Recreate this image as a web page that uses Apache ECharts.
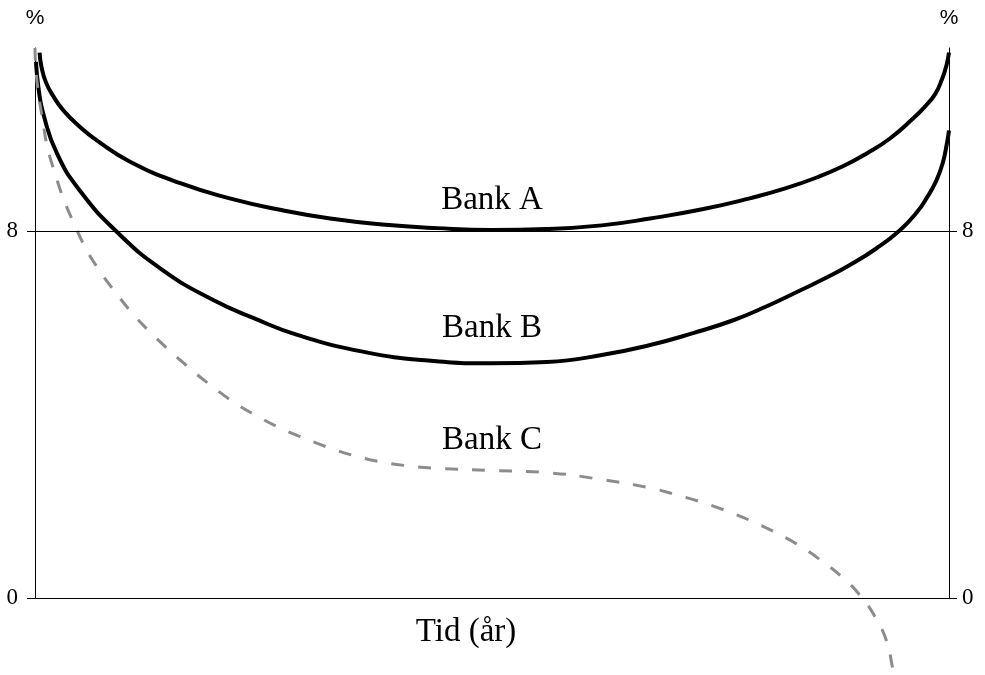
<!DOCTYPE html>
<html>
<head>
<meta charset="utf-8">
<script src="https://cdn.jsdelivr.net/npm/echarts@6/dist/echarts.min.js"></script>
<style>
  html, body { margin: 0; padding: 0; background: #fff; }
  #chart { width: 985px; height: 675px; }
</style>
</head>
<body>
<div id="chart"></div>
<script>
// Tid (x, 0-100) og rente (%)
const bankA_t = [0.5, 0.7, 1.2, 2.0, 3.1, 4.8, 6.8, 10.4, 15.9, 21.3, 26.8, 32.3, 38, 44, 50, 56, 62, 67.3, 73, 78.2, 82, 85.6, 88.5, 91, 93.5, 96, 97.5, 98.5, 99.2, 99.7, 100];
const bankA_r = [11.9, 11.6, 11.25, 10.95, 10.64, 10.3, 9.98, 9.52, 9.05, 8.72, 8.47, 8.28, 8.15, 8.07, 8.03, 8.05, 8.13, 8.28, 8.48, 8.72, 8.93, 9.18, 9.43, 9.7, 10.02, 10.45, 10.75, 11.0, 11.3, 11.6, 11.9];

const bankB_t = [0.1, 0.4, 0.9, 2.4, 4.9, 9, 14, 19.5, 24, 28.7, 36, 43, 50, 56, 62, 67.3, 72, 76.4, 80, 83.7, 86.5, 89.2, 92, 94.6, 96.5, 97.6, 98.6, 99.3, 99.8, 100];
const bankB_r = [11.7, 11.1, 10.57, 9.7, 8.89, 7.98, 7.15, 6.5, 6.1, 5.74, 5.37, 5.18, 5.12, 5.15, 5.3, 5.52, 5.78, 6.06, 6.36, 6.71, 6.98, 7.27, 7.62, 8.02, 8.42, 8.74, 9.1, 9.48, 9.95, 10.2];

const bankC_t = [0, 0.2, 0.9, 1.4, 2.2, 3.1, 4.2, 5.5, 6.9, 8.8, 10.5, 12.5, 14.6, 17, 19.1, 21.7, 24.3, 26.8, 29.8, 32.3, 35.2, 38.1, 41, 44, 50.5, 56.3, 61.5, 67.3, 70.2, 73.1, 75.8, 78.6, 81.3, 83.9, 86.2, 88.4, 90.5, 92.1, 93.2, 93.8, 94.1];
const bankC_r = [12.0, 11.3, 10.35, 9.8, 9.26, 8.72, 8.2, 7.65, 7.19, 6.67, 6.25, 5.82, 5.42, 5.0, 4.66, 4.28, 3.97, 3.71, 3.46, 3.27, 3.09, 2.96, 2.88, 2.83, 2.78, 2.73, 2.6, 2.4, 2.25, 2.08, 1.89, 1.66, 1.40, 1.11, 0.79, 0.44, 0, -0.48, -0.96, -1.5, -1.85];

const yTicks = [0, 8];
const refLevel = 8;
const labelPos = { 'Bank A': [50, 8.68], 'Bank B': [50, 5.89], 'Bank C': [50, 3.44] };

const pairs = (t, r) => t.map((x, i) => [x, r[i]]);

const serif = 'Liberation Serif, Times New Roman, serif';

function bankLabel(name) {
  return {
    symbol: 'circle',
    symbolSize: 0,
    itemStyle: { color: 'transparent' },
    label: {
      show: true,
      position: 'inside',
      formatter: name,
      fontFamily: serif,
      fontSize: 33,
      color: '#000'
    },
    data: [{ coord: labelPos[name] }]
  };
}

function yAxisFor(pos, margin) {
  return {
    type: 'value',
    position: pos,
    min: 0,
    max: 12,
    name: '%',
    nameLocation: 'end',
    nameGap: 19,
    nameTextStyle: { fontFamily: 'Liberation Sans, Arial, sans-serif', fontSize: 21, color: '#000' },
    axisLine: { show: true, lineStyle: { color: '#000', width: 1 } },
    axisTick: { show: true, inside: false, length: 8, customValues: yTicks, lineStyle: { color: '#000' } },
    axisLabel: { customValues: yTicks, margin: margin, fontFamily: serif, fontSize: 23, color: '#000' },
    splitLine: { show: false }
  };
}

function curve(name, t, r, style, extra) {
  return Object.assign({
    name: name,
    type: 'line',
    data: pairs(t, r),
    smooth: 0.5,
    symbol: 'none',
    lineStyle: style,
    markPoint: bankLabel(name)
  }, extra || {});
}

const chart = echarts.init(document.getElementById('chart'));

chart.setOption({
  animation: false,
  backgroundColor: '#fff',
  grid: { left: 35, right: 36, top: 48, bottom: 77 },
  xAxis: {
    type: 'value',
    min: 0,
    max: 100,
    name: 'Tid (år)',
    nameLocation: 'middle',
    nameGap: 18,
    nameTextStyle: { fontFamily: serif, fontSize: 33, color: '#000', padding: [0, 52, 0, 0], verticalAlign: 'top' },
    axisLine: { show: true, onZero: false, lineStyle: { color: '#000', width: 1 } },
    axisTick: { show: false },
    axisLabel: { show: false },
    splitLine: { show: false }
  },
  yAxis: [yAxisFor('left', 17), yAxisFor('right', 13)],
  series: [
    curve('Bank A', bankA_t, bankA_r, { color: '#000', width: 4 }, {
      markLine: {
        silent: true,
        symbol: 'none',
        label: { show: false },
        lineStyle: { color: '#000', width: 1, type: 'solid' },
        data: [{ yAxis: refLevel }]
      }
    }),
    curve('Bank B', bankB_t, bankB_r, { color: '#000', width: 4 }),
    curve('Bank C', bankC_t, bankC_r, { color: '#8c8c8c', width: 3, type: [13, 14] }, { clip: false })
  ]
});
</script>
</body>
</html>
